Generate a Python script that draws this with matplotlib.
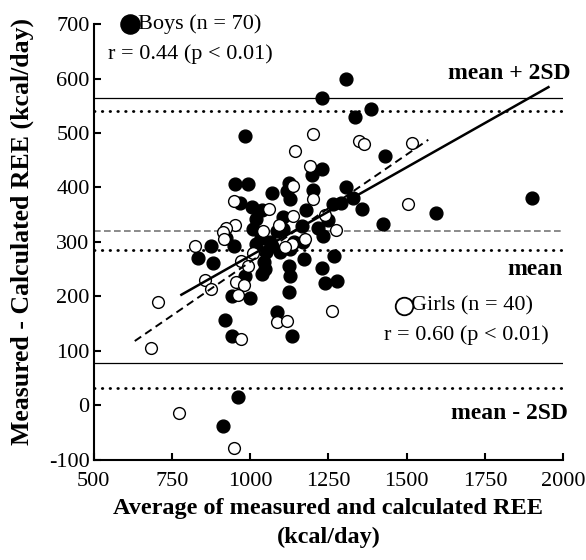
import matplotlib
matplotlib.use("Agg")
import matplotlib.pyplot as plt
import numpy as np

plt.rcParams["font.family"] = ["Liberation Serif", "DejaVu Serif"]
plt.rcParams["axes.unicode_minus"] = False

# =========================
# DATA
# =========================
boys_x = [1305, 1228, 1386, 1336, 1432, 1228, 1198, 1125, 1116, 1307,
          1327, 1265, 1290, 1358, 1425, 1594, 1900, 1268, 1278, 1239,
          983, 951, 993, 1071, 1127, 967, 1006, 1039, 1017, 1009,
          1034, 1020, 1068, 1095, 1127, 1105, 1167, 1178, 1215, 1231,
          1228, 1173, 1125, 1127, 1124, 1044, 1047, 1038, 983, 943,
          999, 876, 832, 882, 922, 949, 919, 943, 1132, 1087,
          961, 914, 1063, 1168, 1105, 1050, 1140, 1200, 1250, 1085]
boys_y = [600, 564, 544, 529, 457, 434, 423, 409, 393, 400,
          380, 369, 371, 360, 333, 353, 380, 275, 228, 225,
          494, 406, 406, 390, 378, 371, 365, 358, 342, 323,
          308, 296, 293, 281, 287, 323, 329, 358, 325, 310,
          253, 269, 256, 237, 208, 264, 250, 241, 237, 200,
          197, 292, 270, 261, 308, 293, 156, 127, 127, 171,
          15, -38, 300, 300, 345, 282, 300, 395, 340, 320]

girls_x = [1143, 1201, 1347, 1363, 1518, 1137, 1200, 1505, 1275, 1260,
           949, 1137, 1092, 951, 922, 912, 916, 1175, 1135, 824,
           970, 994, 855, 874, 953, 981, 961, 706, 682, 972,
           1084, 1116, 773, 948, 1040, 1110, 1240, 1010, 1190, 1060]
girls_y = [467, 498, 485, 479, 482, 403, 378, 369, 322, 174,
           375, 348, 331, 331, 325, 319, 305, 305, 296, 292,
           265, 256, 230, 214, 226, 221, 203, 190, 105, 122,
           153, 155, -15, -79, 320, 290, 350, 280, 440, 360]

# limits of agreement
boys_mean, boys_hi, boys_lo = 320, 564, 77
girls_mean, girls_hi, girls_lo = 286, 540, 31

# regression lines
boys_slope, boys_icpt, boys_range = 0.325, -50.5, (780, 1953)
girls_slope, girls_icpt, girls_range = 0.394, -130.6, (631, 1569)

# =========================
# PLOT
# =========================
fig = plt.figure(figsize=(5.86, 5.60), dpi=100)
ax = fig.add_axes([0.160, 0.179, 0.801, 0.778])

dot = dict(color="black", lw=2.0, linestyle=(0, (0.2, 2.6)), dash_capstyle="round")

ax.axhline(boys_hi, color="black", lw=0.9)
ax.axhline(boys_lo, color="black", lw=0.9)
ax.axhline(boys_mean, color="#777777", lw=1.2, linestyle=(0, (4, 2)))
ax.axhline(girls_hi, **dot)
ax.axhline(girls_lo, **dot)
ax.axhline(girls_mean, **dot)

bx = np.array(boys_range)
ax.plot(bx, boys_slope * bx + boys_icpt, color="black", lw=1.8, zorder=4)
gx = np.array(girls_range)
ax.plot(gx, girls_slope * gx + girls_icpt, color="black", lw=1.4,
        linestyle=(0, (4, 2.5)), zorder=4)

ax.scatter(boys_x, boys_y, s=85, color="black", zorder=3)
ax.scatter(girls_x, girls_y, s=72, facecolor="white", edgecolor="black",
           linewidth=1.0, zorder=3)

ax.set_xlim(500, 2000)
ax.set_ylim(-100, 700)
ax.set_xticks(range(500, 2001, 250))
ax.set_yticks(range(-100, 701, 100))
ax.spines["top"].set_visible(False)
ax.spines["right"].set_visible(False)
ax.spines["left"].set_linewidth(1.5)
ax.spines["bottom"].set_linewidth(1.5)
ax.tick_params(direction="in", length=5, width=1.5, labelsize=16)
ax.tick_params(axis="y", pad=3)
ax.tick_params(axis="x", pad=9)

ax.set_xlabel("Average of measured and calculated REE\n(kcal/day)",
              fontsize=17.5, fontweight="bold", linespacing=1.5, labelpad=5)
ax.set_ylabel("Measured - Calculated REE (kcal/day)", fontsize=18.5,
              fontweight="bold")
ax.yaxis.set_label_coords(-0.128, 0.525)

# annotations
ax.scatter([615], [700], s=190, color="black", clip_on=False, zorder=5)
ax.text(640, 700, "Boys (n = 70)", fontsize=16, va="center")
ax.text(808, 645, "r = 0.44 (p < 0.01)", fontsize=16, va="center", ha="center")

ax.scatter([1491], [183], s=160, facecolor="white", edgecolor="black",
           linewidth=1.3, zorder=5)
ax.text(1515, 183, "Girls (n = 40)", fontsize=16, va="center")
ax.text(1690, 128, "r = 0.60 (p < 0.01)", fontsize=16, va="center", ha="center")

ax.text(2025, 610, "mean + 2SD", fontsize=17, fontweight="bold",
        ha="right", va="center", clip_on=False)
ax.text(2000, 250, "mean", fontsize=17, fontweight="bold",
        ha="right", va="center")
ax.text(2015, -15, "mean - 2SD", fontsize=17, fontweight="bold",
        ha="right", va="center", clip_on=False)

fig.savefig("out.png", dpi=100)
